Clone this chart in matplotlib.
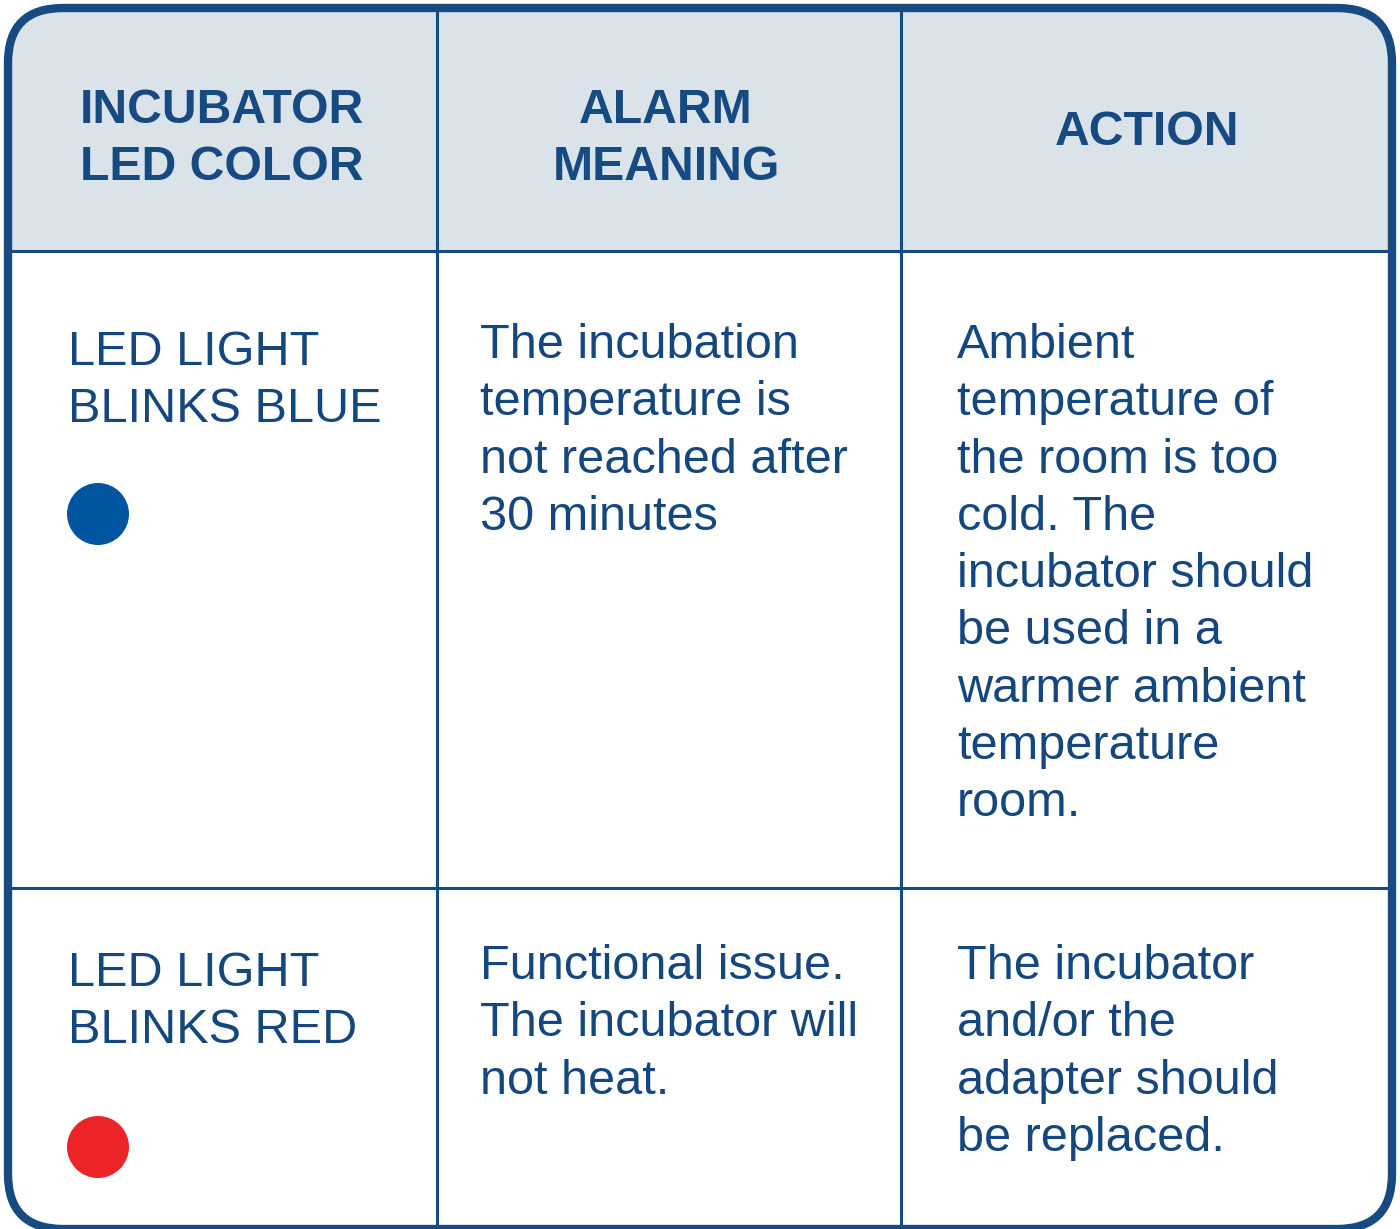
import matplotlib.pyplot as plt
from matplotlib.patches import FancyBboxPatch, Rectangle, Circle

plt.rcParams['font.family'] = ['Liberation Sans', 'DejaVu Sans']

# 표 내용
headers = [['INCUBATOR', 'LED COLOR'], ['ALARM', 'MEANING'], ['ACTION']]
led_labels = [['LED LIGHT', 'BLINKS BLUE'], ['LED LIGHT', 'BLINKS RED']]
led_colors = ['#0055a0', '#ec2427']
meanings = [['The incubation', 'temperature is', 'not reached after', '30 minutes'],
            ['Functional issue.', 'The incubator will', 'not heat.']]
actions = [['Ambient', 'temperature of', 'the room is too', 'cold. The',
            'incubator should', 'be used in a', 'warmer ambient', 'temperature', 'room.'],
           ['The incubator', 'and/or the', 'adapter should', 'be replaced.']]

navy = '#164a80'
text_c = '#15477f'
head_bg = '#dae3ea'

W, H = 1400, 1229
col_x = [8, 437, 901, 1392]
row_y = [8, 251, 888, 1229]
lh = 57.3

fig = plt.figure(figsize=(W / 100, H / 100), dpi=100)
ax = fig.add_axes([0, 0, 1, 1])
ax.set_xlim(0, W)
ax.set_ylim(H, 0)
ax.axis('off')

# 둥근 테두리
box = FancyBboxPatch((col_x[0], row_y[0]), col_x[-1] - col_x[0], row_y[-1] - row_y[0],
                     boxstyle='round,pad=0,rounding_size=55', fc='white', ec='none', zorder=1)
ax.add_patch(box)
hdr = Rectangle((0, 0), W, row_y[1], fc=head_bg, ec='none', zorder=2)
ax.add_patch(hdr)
hdr.set_clip_path(box)

# 내부 선
for x in col_x[1:-1]:
    ax.plot([x, x], [row_y[0], row_y[-1]], color=navy, lw=2.2, zorder=3, solid_capstyle='butt')
for y in row_y[1:-1]:
    ax.plot([col_x[0], col_x[-1]], [y, y], color=navy, lw=2.2, zorder=3, solid_capstyle='butt')

border = FancyBboxPatch((col_x[0], row_y[0]), col_x[-1] - col_x[0], row_y[-1] - row_y[0],
                        boxstyle='round,pad=0,rounding_size=55', fc='none', ec=navy,
                        lw=6.0, zorder=4)
ax.add_patch(border)

# 헤더
head_cx = [222, 666, 1147]
for cx, lines in zip(head_cx, headers):
    y0 = 123 if len(lines) == 2 else 145
    for i, s in enumerate(lines):
        ax.text(cx, y0 + i * lh, s, ha='center', va='baseline', fontsize=34.7,
                fontweight='bold', color=navy, zorder=5)

# 본문
body_fs = 35
row_base = [358, 979]
led_base = [365, 986]
dot_y = [514, 1147]
for r in range(2):
    for i, s in enumerate(led_labels[r]):
        ax.text(68, led_base[r] + i * lh, s, ha='left', va='baseline', fontsize=body_fs,
                color=text_c, zorder=5)
    ax.add_patch(Circle((98, dot_y[r]), 31, fc=led_colors[r], ec='none', zorder=5))
    for i, s in enumerate(meanings[r]):
        ax.text(480, row_base[r] + i * lh, s, ha='left', va='baseline', fontsize=body_fs,
                color=text_c, zorder=5)
    for i, s in enumerate(actions[r]):
        ax.text(957, row_base[r] + i * lh, s, ha='left', va='baseline', fontsize=body_fs,
                color=text_c, zorder=5)

plt.savefig('out.png', dpi=100)
